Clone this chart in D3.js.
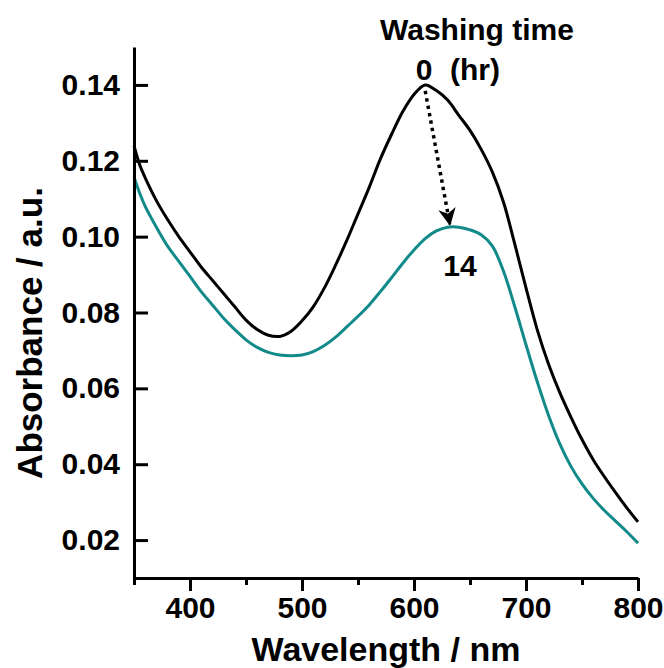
<!DOCTYPE html>
<html>
<head>
<meta charset="utf-8">
<script src="https://cdn.jsdelivr.net/npm/d3@7"></script>
<style>
  body { margin: 0; background: #fff; }
  text { font-family: "Liberation Sans", Arial, sans-serif; font-weight: bold; fill: #000; }
</style>
</head>
<body>
<div id="chart"></div>
<script>
// Wavelength grid (nm)
const wavelengths = [350, 355, 360, 370, 380, 390, 400, 410, 420, 430, 440, 450, 460, 470, 480, 490,
  500, 510, 520, 530, 540, 550, 560, 570, 580, 590, 600, 610, 620, 630, 640, 650, 660, 670, 680, 690,
  700, 710, 720, 730, 740, 750, 760, 770, 780, 790, 800];

// Absorbance, washing time 0 hr
const abs0 = [0.124, 0.119, 0.1155, 0.1095, 0.1045, 0.100, 0.096, 0.092, 0.0885, 0.085, 0.0815, 0.078,
  0.0755, 0.0740, 0.0737, 0.0750, 0.0778, 0.0815, 0.0865, 0.0925, 0.099, 0.106, 0.113, 0.1205, 0.127,
  0.133, 0.1375, 0.140, 0.1385, 0.136, 0.132, 0.128, 0.123, 0.117, 0.109, 0.098, 0.0865, 0.0755, 0.0665,
  0.059, 0.0525, 0.0465, 0.0412, 0.0367, 0.0325, 0.0285, 0.0248];

// Absorbance, washing time 14 hr
const abs14 = [0.1157, 0.1115, 0.108, 0.1025, 0.0975, 0.0935, 0.0895, 0.0855, 0.082, 0.0785, 0.0755,
  0.0728, 0.0708, 0.0695, 0.0688, 0.0686, 0.0688, 0.0697, 0.0713, 0.0735, 0.0762, 0.079, 0.082,
  0.0855, 0.0892, 0.093, 0.0965, 0.0995, 0.1015, 0.1025, 0.1025, 0.1018, 0.1005, 0.0975, 0.0908, 0.0815,
  0.0715, 0.0618, 0.053, 0.0455, 0.0395, 0.0348, 0.031, 0.0278, 0.025, 0.0222, 0.0192];

const xMajorTicks = [400, 500, 600, 700, 800];
const xMinorTicks = [350, 450, 550, 650, 750];
const yTicks = [0.02, 0.04, 0.06, 0.08, 0.10, 0.12, 0.14];

const width = 664, height = 668;
const plotLeft = 134, plotRight = 638, plotTop = 47, plotBottom = 578;

const svg = d3.select("#chart").append("svg")
  .attr("width", width)
  .attr("height", height);

const x = d3.scaleLinear().domain([350, 800]).range([plotLeft, plotRight]);
const y = d3.scaleLinear().domain([0.01, 0.15]).range([plotBottom, plotTop]);

// Curves
const line = d3.line()
  .x(d => x(d[0]))
  .y(d => y(d[1]))
  .curve(d3.curveCatmullRom.alpha(0.5));

svg.append("path")
  .datum(wavelengths.map((w, i) => [w, abs14[i]]))
  .attr("fill", "none")
  .attr("stroke", "#138a8a")
  .attr("stroke-width", 3)
  .attr("d", line);

svg.append("path")
  .datum(wavelengths.map((w, i) => [w, abs0[i]]))
  .attr("fill", "none")
  .attr("stroke", "#000")
  .attr("stroke-width", 3)
  .attr("d", line);

// Bottom axis, major + minor ticks
const xAxis = svg.append("g")
  .attr("transform", `translate(0,${plotBottom})`)
  .call(d3.axisBottom(x).tickValues(xMajorTicks).tickSize(13).tickSizeOuter(0).tickPadding(6));
xAxis.selectAll("text").attr("font-size", "30px");

const xMinor = svg.append("g")
  .attr("transform", `translate(0,${plotBottom})`)
  .call(d3.axisBottom(x).tickValues(xMinorTicks).tickSize(7).tickSizeOuter(0).tickFormat(""));
xMinor.select(".domain").remove();

// Left axis, ticks pointing inward
const yAxis = svg.append("g")
  .attr("transform", `translate(${plotLeft},0)`)
  .call(d3.axisLeft(y).tickValues(yTicks).tickSize(-14).tickSizeOuter(0).tickPadding(14)
    .tickFormat(d3.format(".2f")));
yAxis.selectAll("text").attr("font-size", "30px");

svg.selectAll(".domain, .tick line")
  .attr("stroke", "#000")
  .attr("stroke-width", 3);

// Axis titles
svg.append("text")
  .attr("x", 386)
  .attr("y", 661)
  .attr("text-anchor", "middle")
  .attr("font-size", "34px")
  .text("Wavelength / nm");

svg.append("text")
  .attr("transform", `translate(42,333) rotate(-90)`)
  .attr("text-anchor", "middle")
  .attr("font-size", "35px")
  .text("Absorbance / a.u.");

// Annotation
svg.append("text")
  .attr("x", 477)
  .attr("y", 40)
  .attr("text-anchor", "middle")
  .attr("font-size", "30px")
  .text("Washing time");

svg.append("text")
  .attr("x", 424)
  .attr("y", 80)
  .attr("text-anchor", "middle")
  .attr("font-size", "30px")
  .text("0");

svg.append("text")
  .attr("x", 450)
  .attr("y", 80)
  .attr("font-size", "30px")
  .text("(hr)");

svg.append("text")
  .attr("x", 460)
  .attr("y", 276)
  .attr("text-anchor", "middle")
  .attr("font-size", "30px")
  .text("14");

// Dotted arrow from 0 hr peak to 14 hr peak
svg.append("defs").append("marker")
  .attr("id", "head")
  .attr("viewBox", "0 0 10 10")
  .attr("refX", 9)
  .attr("refY", 5)
  .attr("markerWidth", 5)
  .attr("markerHeight", 5)
  .attr("markerUnits", "strokeWidth")
  .attr("orient", "auto")
  .append("path")
  .attr("d", "M0,0 L10,5 L0,10 L3,5 Z")
  .attr("fill", "#000");

svg.append("line")
  .attr("x1", x(610))
  .attr("y1", y(0.1395) + 4)
  .attr("x2", x(632))
  .attr("y2", y(0.1025) - 3)
  .attr("stroke", "#000")
  .attr("stroke-width", 3.5)
  .attr("stroke-dasharray", "3.5,4")
  .attr("marker-end", "url(#head)");
</script>
</body>
</html>
